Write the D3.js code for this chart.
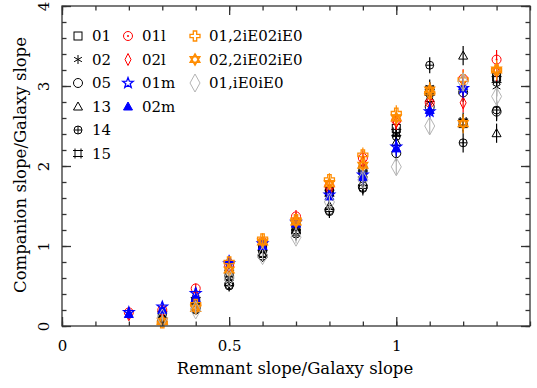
<!DOCTYPE html>
<html>
<head>
<meta charset="utf-8">
<script src="https://cdn.jsdelivr.net/npm/d3@7"></script>
<style>
  body { margin: 0; background: #fff; }
  text { font-family: "DejaVu Serif", serif; }
</style>
</head>
<body>
<svg id="chart" width="537" height="388"></svg>
<script>
// x positions (remnant slope / galaxy slope)
var xs = [0.2, 0.3, 0.4, 0.5, 0.6, 0.7, 0.8, 0.9, 1.0, 1.1, 1.2, 1.3];
// error half-widths per x position
var errs = [0.06, 0.06, 0.06, 0.07, 0.07, 0.08, 0.08, 0.09, 0.1, 0.1, 0.12, 0.12];

var names = ["01", "02", "05", "13", "14", "15", "01l", "02l", "01m", "02m", "01,2iE02iE0", "02,2iE02iE0", "01,iE0iE0"];
var colors = ["#000", "#000", "#000", "#000", "#000", "#000", "#ff0000", "#ff0000", "#0000ff", "#0000ff", "#ff8c00", "#ff8c00", "#b4b4b4"];
var shapes = ["square", "asterisk", "circle", "triangle", "oplus", "bracket", "odot", "diamond", "star", "ftriangle", "cross", "david", "bigdiamond"];

var s01 = [null, 0.12, 0.30, 0.62, 0.97, 1.25, 1.68, 1.95, 2.47, 2.95, 2.53, 3.11];
var s02 = [null, 0.10, 0.28, 0.60, 0.95, 1.22, 1.60, 1.85, 2.40, 2.98, 2.95, 2.99];
var s05 = [null, 0.08, 0.22, 0.52, 0.88, 1.18, 1.45, 1.74, 2.16, 2.74, 2.92, 2.68];
var s13 = [null, 0.10, 0.25, 0.55, 0.90, 1.20, 1.50, 1.80, 2.30, 2.85, 3.38, 2.41];
var s14 = [null, 0.09, 0.20, 0.50, 0.87, 1.15, 1.43, 1.72, 2.37, 3.26, 2.29, 2.70];
var s15 = [null, 0.14, 0.32, 0.66, 0.98, 1.24, 1.66, 1.90, 2.42, 2.92, 2.55, 3.08];
var s01l = [0.17, 0.20, 0.47, 0.75, 1.05, 1.37, 1.75, 2.10, 2.57, 2.79, 3.09, 3.33];
var s02l = [0.14, 0.18, 0.38, 0.72, 1.02, 1.33, 1.70, 2.05, 2.55, 2.80, 2.79, 3.18];
var s01m = [0.17, 0.24, 0.41, 0.78, 1.03, 1.30, 1.64, 1.89, 2.24, 2.68, 2.97, null];
var s02m = [0.15, 0.20, 0.35, 0.82, 1.00, 1.28, 1.62, 1.86, 2.22, 2.70, 3.00, null];
var s01c = [null, 0.04, 0.27, 0.80, 1.09, 1.33, 1.83, 2.14, 2.66, 2.91, 3.08, 3.20];
var s02c = [null, 0.06, 0.22, 0.70, 1.05, 1.30, 1.78, 2.01, 2.60, 2.95, 2.53, 3.20];
var s01i = [null, 0.10, 0.20, 0.60, 0.88, 1.11, 1.55, 1.83, 1.99, 2.50, 3.05, 2.87];
var series = [s01, s02, s05, s13, s14, s15, s01l, s02l, s01m, s02m, s01c, s02c, s01i];

var xTicks = [0, 0.5, 1];
var yTicks = [0, 1, 2, 3, 4];

var svg = d3.select("#chart");
var margin = { left: 62, right: 7, top: 6, bottom: 62 };
var W = 537, H = 388;

var x = d3.scaleLinear().domain([0, 1.4]).range([margin.left, W - margin.right]);
var y = d3.scaleLinear().domain([0, 4]).range([H - margin.bottom, margin.top]);

// marker drawing
function marker(g, shape, color) {
  var s = 4;
  var sw = 1;
  if (shape == "square") {
    g.append("rect").attr("x", -s).attr("y", -s).attr("width", 2 * s).attr("height", 2 * s)
      .attr("fill", "none").attr("stroke", color).attr("stroke-width", sw);
  } else if (shape == "asterisk") {
    [0, 60, 120].forEach(function (a) {
      var r = a * Math.PI / 180;
      g.append("line").attr("x1", -4.5 * Math.sin(r)).attr("y1", -4.5 * Math.cos(r))
        .attr("x2", 4.5 * Math.sin(r)).attr("y2", 4.5 * Math.cos(r))
        .attr("stroke", color).attr("stroke-width", sw);
    });
  } else if (shape == "circle") {
    g.append("circle").attr("r", 4.5).attr("fill", "none").attr("stroke", color).attr("stroke-width", sw);
  } else if (shape == "triangle") {
    g.append("path").attr("d", "M0,-4.5L4.5,3.5L-4.5,3.5Z").attr("fill", "none").attr("stroke", color).attr("stroke-width", sw);
  } else if (shape == "ftriangle") {
    g.append("path").attr("d", "M0,-4.5L4.5,3.5L-4.5,3.5Z").attr("fill", color).attr("stroke", color).attr("stroke-width", sw);
  } else if (shape == "oplus") {
    g.append("circle").attr("r", 4).attr("fill", "none").attr("stroke", color).attr("stroke-width", sw);
    g.append("path").attr("d", "M-4,0H4M0,-4V4").attr("stroke", color).attr("stroke-width", sw);
  } else if (shape == "bracket") {
    g.append("path").attr("d", "M-3,-3H3V3H-3Z M-5,-3H-3V-5 M5,-3H3V-5 M-5,3H-3V5 M5,3H3V5")
      .attr("fill", "none").attr("stroke", color).attr("stroke-width", sw);
  } else if (shape == "odot") {
    g.append("circle").attr("r", 4.5).attr("fill", "none").attr("stroke", color).attr("stroke-width", sw);
    g.append("circle").attr("r", 1).attr("fill", color);
  } else if (shape == "diamond") {
    g.append("path").attr("d", "M0,-6L3,0L0,6L-3,0Z").attr("fill", "none").attr("stroke", color).attr("stroke-width", sw);
  } else if (shape == "bigdiamond") {
    g.append("path").attr("d", "M0,-9L5,0L0,9L-5,0Z").attr("fill", "none").attr("stroke", color).attr("stroke-width", sw);
  } else if (shape == "star") {
    var pts = d3.range(10).map(function (i) {
      var r = i % 2 ? 2.3 : 5.5, a = i * Math.PI / 5;
      return [r * Math.sin(a), -r * Math.cos(a)];
    });
    g.append("path").attr("d", "M" + pts.join("L") + "Z").attr("fill", "none").attr("stroke", color).attr("stroke-width", 1.3);
  } else if (shape == "cross") {
    g.append("path").attr("d", "M-1.7,-5H1.7V-1.7H5V1.7H1.7V5H-1.7V1.7H-5V-1.7H-1.7Z")
      .attr("fill", "none").attr("stroke", color).attr("stroke-width", 1.3);
  } else if (shape == "david") {
    g.append("path").attr("d", "M0,-5.5L4.8,2.8L-4.8,2.8Z M0,5.5L4.8,-2.8L-4.8,-2.8Z")
      .attr("fill", "none").attr("stroke", color).attr("stroke-width", 1.5);
  }
}

// data
series.forEach(function (vals, k) {
  var g = svg.append("g").attr("class", "series");
  xs.forEach(function (xv, i) {
    var v = vals[i];
    if (v == null) return;
    g.append("line")
      .attr("x1", x(xv)).attr("x2", x(xv))
      .attr("y1", y(v - errs[i])).attr("y2", y(v + errs[i]))
      .attr("stroke", colors[k]).attr("stroke-width", 1.2);
    var m = g.append("g").attr("transform", "translate(" + x(xv) + "," + y(v) + ")");
    marker(m, shapes[k], colors[k]);
  });
});

// axes, ticks inward on all four sides
var axisColor = "#333";
function addAxis(axis, tr) {
  var a = svg.append("g").attr("transform", tr).call(axis);
  a.select(".domain").remove();
  a.selectAll("line").attr("stroke", axisColor).attr("stroke-width", 1.3);
  return a;
}
var xMinor = d3.range(0, 1.41, 0.1);
var yMinor = d3.range(0, 4.01, 0.2);
var pBottom = H - margin.bottom, pLeft = margin.left, pRight = W - margin.right, pTop = margin.top;

var xb = addAxis(d3.axisBottom(x).tickValues(xTicks).tickSize(-9).tickPadding(14).tickFormat(d3.format("")), "translate(0," + pBottom + ")");
addAxis(d3.axisBottom(x).tickValues(xMinor).tickSize(-4.5).tickFormat(""), "translate(0," + pBottom + ")");
addAxis(d3.axisTop(x).tickValues(xTicks).tickSize(-9).tickFormat(""), "translate(0," + pTop + ")");
addAxis(d3.axisTop(x).tickValues(xMinor).tickSize(-4.5).tickFormat(""), "translate(0," + pTop + ")");
var yl = addAxis(d3.axisLeft(y).tickValues(yTicks).tickSize(-9).tickPadding(12).tickFormat(d3.format("")), "translate(" + pLeft + ",0)");
addAxis(d3.axisLeft(y).tickValues(yMinor).tickSize(-4.5).tickFormat(""), "translate(" + pLeft + ",0)");
addAxis(d3.axisRight(y).tickValues(yTicks).tickSize(-9).tickFormat(""), "translate(" + pRight + ",0)");
addAxis(d3.axisRight(y).tickValues(yMinor).tickSize(-4.5).tickFormat(""), "translate(" + pRight + ",0)");

xb.selectAll("text").attr("font-size", 15).attr("fill", "#000").attr("font-family", "DejaVu Serif");
yl.selectAll("text").attr("font-size", 15).attr("fill", "#000").attr("font-family", "DejaVu Serif")
  .attr("text-anchor", "middle").attr("dy", null).attr("x", null)
  .attr("transform", function () { return "translate(-17,0) rotate(-90)"; })
  .attr("dominant-baseline", "middle");

svg.append("rect").attr("x", pLeft).attr("y", pTop).attr("width", pRight - pLeft).attr("height", pBottom - pTop)
  .attr("fill", "none").attr("stroke", axisColor).attr("stroke-width", 1.3);

// titles
svg.append("text").attr("x", 295).attr("y", 374).attr("text-anchor", "middle")
  .attr("font-size", 16.5).text("Remnant slope/Galaxy slope");
svg.append("text").attr("transform", "translate(26,165) rotate(-90)")
  .attr("text-anchor", "middle").attr("font-size", 16.5).text("Companion slope/Galaxy slope");

// legend
var legCols = [[0, 1, 2, 3, 4, 5], [6, 7, 8, 9], [10, 11, 12]];
var colX = [78, 128, 195];
legCols.forEach(function (col, c) {
  col.forEach(function (k, r) {
    var ly = 36 + r * 23.5;
    var m = svg.append("g").attr("transform", "translate(" + colX[c] + "," + ly + ")");
    marker(m, shapes[k], colors[k]);
    svg.append("text").attr("x", colX[c] + 14).attr("y", ly + 5).attr("font-size", 15).text(names[k]);
  });
});
</script>
</body>
</html>
